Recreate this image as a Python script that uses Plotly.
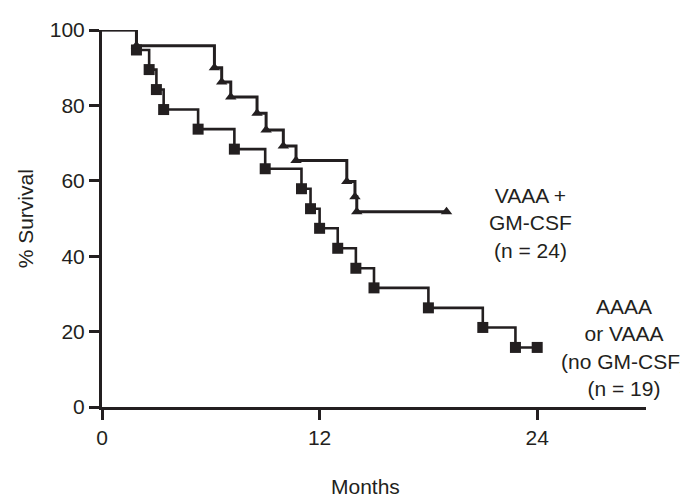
import plotly.graph_objects as go

# Kaplan-Meier data
# Control arm: AAAA or VAAA (no GM-CSF), n = 19  (square markers)
ctrl_months = [1.9, 2.6, 3.0, 3.4, 5.3, 7.3, 9.0, 11.0, 11.5, 12.0, 13.0, 14.0, 15.0, 18.0, 21.0, 22.8, 24.0]
ctrl_surv = [94.7, 89.5, 84.2, 78.9, 73.7, 68.4, 63.2, 57.9, 52.6, 47.4, 42.1, 36.8, 31.6, 26.3, 21.1, 15.8, 15.8]

# VAAA + GM-CSF, n = 24 (triangle markers)
gm_months = [1.9, 6.2, 6.6, 7.1, 8.55, 9.05, 10.0, 10.7, 13.5, 13.95, 14.05, 19.0]
gm_surv = [95.8, 90.0, 86.2, 82.2, 77.9, 73.5, 69.2, 65.4, 59.8, 55.8, 51.8, 51.8]

x_ticks = [0, 12, 24]
y_ticks = [0, 20, 40, 60, 80, 100]

INK = "#231f20"
FONT = "Liberation Sans, Arial, Helvetica, sans-serif"
FS = 21

fig = go.Figure()

# step lines
fig.add_trace(go.Scatter(
    x=[0] + gm_months, y=[100] + gm_surv, mode="lines",
    line=dict(color=INK, width=3, shape="hv"), hoverinfo="skip", showlegend=False))
fig.add_trace(go.Scatter(
    x=[0] + ctrl_months, y=[100] + ctrl_surv, mode="lines",
    line=dict(color=INK, width=2.6, shape="hv"), hoverinfo="skip", showlegend=False))

# markers
fig.add_trace(go.Scatter(
    x=ctrl_months, y=ctrl_surv, mode="markers",
    marker=dict(symbol="square", size=11, color=INK, line=dict(width=0)),
    showlegend=False, cliponaxis=False))
fig.add_trace(go.Scatter(
    x=gm_months, y=gm_surv, mode="markers",
    marker=dict(symbol="triangle-up", size=10, color=INK, line=dict(width=0)),
    showlegend=False, cliponaxis=False))

# curve labels
fig.add_annotation(x=23.63, y=48.8, xref="x", yref="y",
                   text="VAAA +<br>GM-CSF<br>(n = 24)", showarrow=False,
                   xanchor="center", yanchor="middle", align="center",
                   font=dict(family=FONT, size=FS, color=INK))
fig.add_annotation(x=28.76, y=15.8, xref="x", yref="y",
                   text="AAAA<br>or VAAA<br>(no GM-CSF)<br>(n = 19)", showarrow=False,
                   xanchor="center", yanchor="middle", align="center",
                   font=dict(family=FONT, size=FS, color=INK))

# axis titles
fig.add_annotation(x=0.485, y=-0.211, xref="paper", yref="paper",
                   text="Months", showarrow=False, xanchor="center", yanchor="middle",
                   font=dict(family=FONT, size=FS, color=INK))
fig.add_annotation(x=-0.14, y=0.5, xref="paper", yref="paper",
                   text="% Survival", showarrow=False, textangle=-90,
                   xanchor="center", yanchor="middle",
                   font=dict(family=FONT, size=FS, color=INK))

axis_common = dict(showgrid=False, zeroline=False, showline=True, linecolor=INK,
                   linewidth=3, ticks="outside", ticklen=10, tickwidth=3, tickcolor=INK,
                   tickfont=dict(family=FONT, size=FS, color=INK), fixedrange=True,
                   ticklabeloverflow="allow")

fig.update_xaxes(range=[0, 30], tickvals=x_ticks, ticktext=[str(v) for v in x_ticks],
                 **axis_common)
fig.update_yaxes(range=[0, 100], tickvals=y_ticks, ticktext=[str(v) for v in y_ticks],
                 **axis_common)

# the page body adds an 8px margin, so the figure is sized to fill the rest of the window
fig.update_layout(width=680, height=493,
                  margin=dict(l=94, r=42, t=10, b=94),
                  paper_bgcolor="white", plot_bgcolor="white",
                  font=dict(family=FONT, color=INK))

fig.write_html("out.html")
